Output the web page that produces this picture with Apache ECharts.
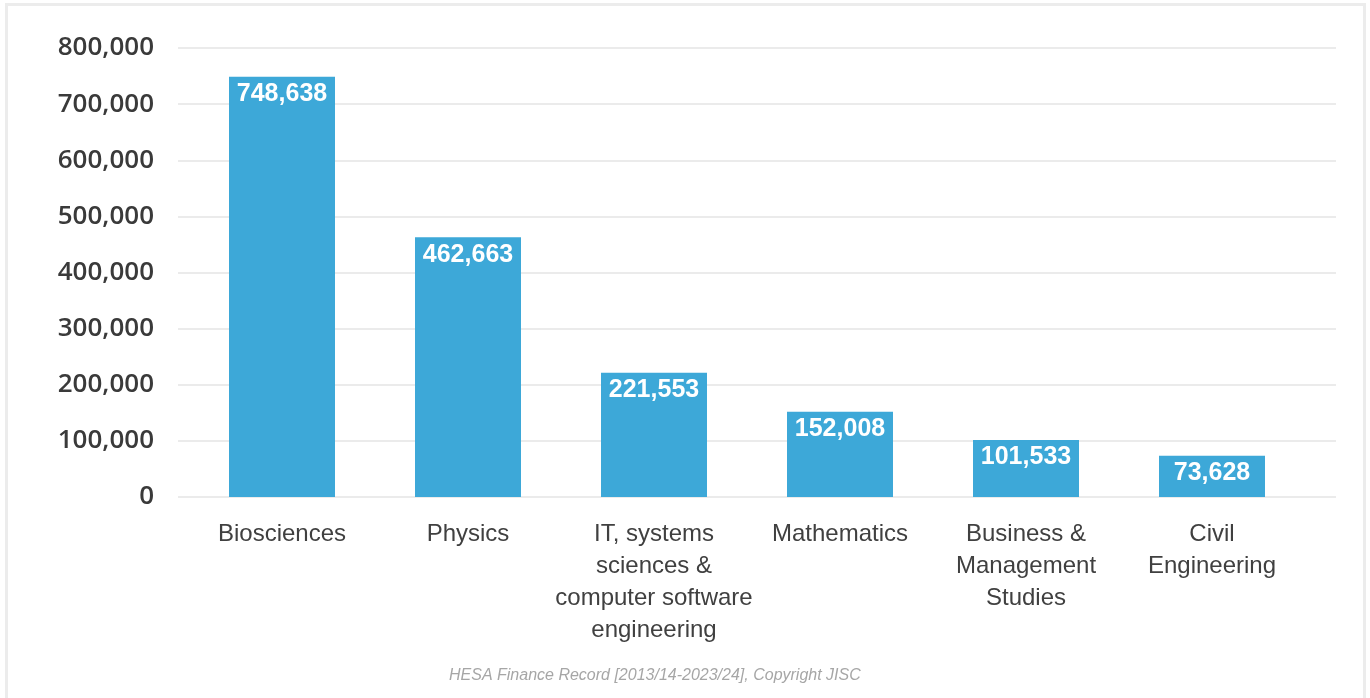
<!DOCTYPE html>
<html>
<head>
<meta charset="utf-8">
<script src="https://cdn.jsdelivr.net/npm/echarts@6/dist/echarts.min.js"></script>
<style>
  html, body { margin: 0; padding: 0; background: #ffffff; width: 1370px; height: 698px; overflow: hidden; }
  #frame { position: absolute; left: 5px; top: 3px; width: 1355px; height: 720px; border: 3px solid #ececec; border-bottom: none; box-sizing: content-box; }
  #chart { position: absolute; left: 0; top: 0; width: 1370px; height: 698px; }
</style>
</head>
<body>
<div id="frame"></div>
<div id="chart"></div>
<script>
const categories = [
  "Biosciences",
  "Physics",
  "IT, systems\nsciences &\ncomputer software\nengineering",
  "Mathematics",
  "Business &\nManagement\nStudies",
  "Civil\nEngineering"
];
const values = [748638, 462663, 221553, 152008, 101533, 73628];
const yTicks = { min: 0, max: 800000, interval: 100000 };
const sourceNote = "HESA Finance Record [2013/14-2023/24], Copyright JISC";

const fmt = v => Number(v).toLocaleString('en-US');

const chart = echarts.init(document.getElementById('chart'), null, { renderer: 'canvas' });
chart.setOption({
  backgroundColor: 'transparent',
  animation: false,
  title: {
    text: sourceNote,
    left: 444,
    top: 663,
    textStyle: { fontFamily: 'Liberation Sans', fontStyle: 'italic', fontWeight: 'normal', fontSize: 16, color: '#a6a6a6' }
  },
  grid: [
    { left: 178, width: 1158, top: 48, height: 449 },
    { left: 189, width: 1116, top: 48, height: 449 }
  ],
  xAxis: [
    { gridIndex: 0, type: 'value', show: false },
    {
      gridIndex: 1, type: 'category', data: categories,
      axisLine: { show: false }, axisTick: { show: false },
      axisLabel: { interval: 0, margin: 21, fontFamily: 'Liberation Sans', fontSize: 24, lineHeight: 32, color: '#404040', align: 'center' }
    }
  ],
  yAxis: [
    {
      gridIndex: 0, type: 'value', min: yTicks.min, max: yTicks.max, interval: yTicks.interval,
      axisLine: { show: false }, axisTick: { show: false },
      splitLine: { show: true, lineStyle: { color: '#ebebeb', width: 2 } },
      axisLabel: { margin: 24, fontFamily: 'Open Sans', fontWeight: 600, fontSize: 26, color: '#3a3a3a', formatter: fmt }
    },
    { gridIndex: 1, type: 'value', min: yTicks.min, max: yTicks.max, interval: yTicks.interval, show: false, splitLine: { show: false } }
  ],
  series: [{
    type: 'bar', xAxisIndex: 1, yAxisIndex: 1, data: values, barWidth: 106,
    itemStyle: { color: '#3da8d8' },
    label: {
      show: true, position: 'insideTop', distance: 5, color: '#ffffff',
      fontFamily: 'Liberation Sans', fontWeight: 'bold', fontSize: 25, formatter: p => fmt(p.value)
    }
  }]
});
</script>
</body>
</html>
